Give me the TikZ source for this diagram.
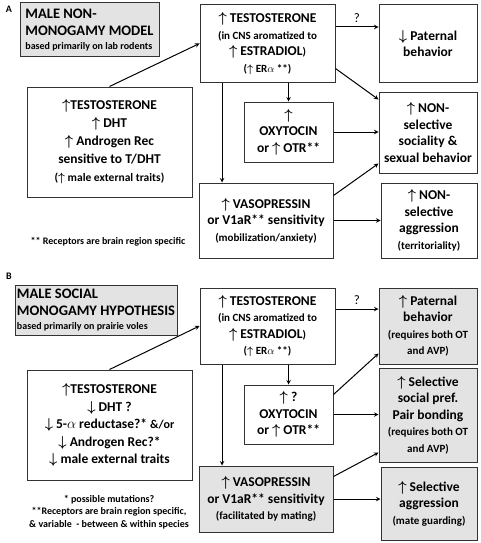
\documentclass[tikz,border=0pt]{standalone}
\usepackage{fontspec}
\setmainfont{Carlito}
\newcommand{\upar}{{\boldmath$\uparrow$}}
\newcommand{\dnar}{{\boldmath$\downarrow$}}
\newcommand{\sm}{\fontsize{11}{16.5}\selectfont}
\tikzset{
  box/.style={draw=black!80, line width=1pt, align=center, inner sep=0pt,
    font=\bfseries\fontsize{13.5}{16.5}\selectfont},
  grey/.style={fill=black!11},
  titlebox/.style={box, align=left, fill=black!11, font=\bfseries\fontsize{14.5}{17}\selectfont},
  note/.style={align=center, font=\bfseries\fontsize{10}{12.5}\selectfont}
}
\begin{document}
\begin{tikzpicture}[x=1pt, y=-1pt, >=stealth, line width=1pt]
    \useasboundingbox (0,0) rectangle (480,543);
    % panel A
    \node (labA) at (9,9)[font=\bfseries\fontsize{10}{12}\selectfont]{A};
    \node (titleA) at (89.5,30)[titlebox, minimum width=139, minimum height=54]{MALE NON-\\MONOGAMY MODEL\\[-3pt]{\fontsize{10}{12}\selectfont based primarily on lab rodents}};
    \node (tA) at (267.5,43.5)[box, minimum width=135, minimum height=77]{\upar\ TESTOSTERONE\\ \sm(in CNS aromatized to\\ \upar\ ESTRADIOL{\sm)}\\ \sm(\upar\ ER$\alpha$ **)};
    \node (pA) at (428,43.5)[box, minimum width=98, minimum height=77]{\dnar\ Paternal\\ behavior};
    \node (socA) at (428,132.5)[box, minimum width=98, minimum height=81]{\upar\ NON-\\ selective\\ sociality \&\\ sexual behavior};
    \node (oxyA) at (288.5,132)[box, minimum width=89, minimum height=60]{\upar\\ OXYTOCIN\\ or \upar\ OTR**};
    \node (vasA) at (266,220.5)[box, minimum width=134, minimum height=75]{\upar\ VASOPRESSIN\\ or V1aR** sensitivity\\ \sm(mobilization/anxiety)};
    \node (aggA) at (429,220.5)[box, minimum width=96, minimum height=75]{\upar\ NON-\\ selective\\ aggression\\ \sm(territoriality)};
    \node (lA) at (109.5,142)[box, minimum width=165, minimum height=110, font=\bfseries\fontsize{13.5}{18}\selectfont]{\upar TESTOSTERONE\\ \upar\ DHT\\ \upar\ Androgen Rec\\ sensitive to T/DHT\\ {\fontsize{11.5}{18}\selectfont(\upar\ male external traits)}};
    \node (noteA) at (108,242)[note]{** Receptors are brain region specific};
    \draw[->](lA.north)--(tA.west);
    \draw[->]([yshift=16.5]tA.east)--([yshift=16.5]pA.west)node[midway, above=1pt, font=\fontsize{13}{15}\selectfont]{?};
    \draw[->]([yshift=14]tA.south east)--([yshift=-8]socA.north west);
    \draw[->](tA.south -| oxyA.north)--(oxyA.north);
    \draw[->](oxyA.east)--(oxyA.east -| socA.west);
    \coordinate (vA) at ([xshift=-44]vasA.north);
    \draw[->](vA |- tA.south)--(vA);
    \draw[->]([yshift=-13]vasA.north east)--([yshift=10]socA.south west);
    \draw[->](vasA.east)--(vasA.east -| aggA.west);
    % panel B
    \node (labB) at (9,276)[font=\bfseries\fontsize{10}{12}\selectfont]{B};
    \node (titleB) at (96,310)[titlebox, minimum width=162, minimum height=50]{MALE SOCIAL\\MONOGAMY HYPOTHESIS\\[-3pt]{\fontsize{10}{12}\selectfont based primarily on prairie voles}};
    \node (tB) at (267.5,326)[box, minimum width=135, minimum height=76]{\upar\ TESTOSTERONE\\ \sm(in CNS aromatized to\\ \upar\ ESTRADIOL{\sm)}\\ \sm(\upar\ ER$\alpha$ **)};
    \node (pB) at (428,326)[box, grey, minimum width=98, minimum height=76]{\upar\ Paternal\\ behavior\\ \sm(requires both OT\\ \sm and AVP)};
    \node (socB) at (428,415)[box, grey, minimum width=98, minimum height=94]{\upar\ Selective\\ social pref.\\ Pair bonding\\ \sm(requires both OT\\ \sm and AVP)};
    \node (oxyB) at (288.5,414.5)[box, minimum width=89, minimum height=59]{\upar\ ?\\ OXYTOCIN\\ or \upar\ OTR**};
    \node (vasB) at (266,499)[box, grey, minimum width=134, minimum height=66]{\upar\ VASOPRESSIN\\ or V1aR** sensitivity\\ \sm(facilitated by mating)};
    \node (aggB) at (429,503.5)[box, grey, minimum width=96, minimum height=73]{\upar\ Selective\\ aggression\\ \sm(mate guarding)};
    \node (lB) at (109.5,425)[box, minimum width=165, minimum height=110, font=\bfseries\fontsize{13.5}{17.5}\selectfont]{\upar TESTOSTERONE\\ \dnar\ DHT ?\\ \dnar\ 5-$\alpha$ reductase?* {\fontsize{12}{17.5}\selectfont\&/or}\\ \dnar\ Androgen Rec?*\\ \dnar\ male external traits};
    \node (noteB) at (109,512)[note]{* possible mutations?\\ **Receptors are brain region specific,\\ \& variable~ - between \& within species};
    \draw[->](lB.north)--(tB.west);
    \draw[->]([yshift=17]tB.east)--([yshift=17]pB.west)node[midway, above=1pt, font=\fontsize{13}{15}\selectfont]{?};
    \draw[->](tB.south -| oxyB.north)--(oxyB.north);
    \draw[->]([yshift=-10]oxyB.north east)--([yshift=11]pB.south west);
    \draw[->](oxyB.east)--(oxyB.east -| socB.west);
    \coordinate (vB) at ([xshift=-44]vasB.north);
    \draw[->](vB |- tB.south)--(vB);
    \draw[->]([yshift=-11]vasB.north east)--([yshift=10]socB.south west);
    \draw[->](vasB.east)--(vasB.east -| aggB.west);
\end{tikzpicture}
\end{document}
